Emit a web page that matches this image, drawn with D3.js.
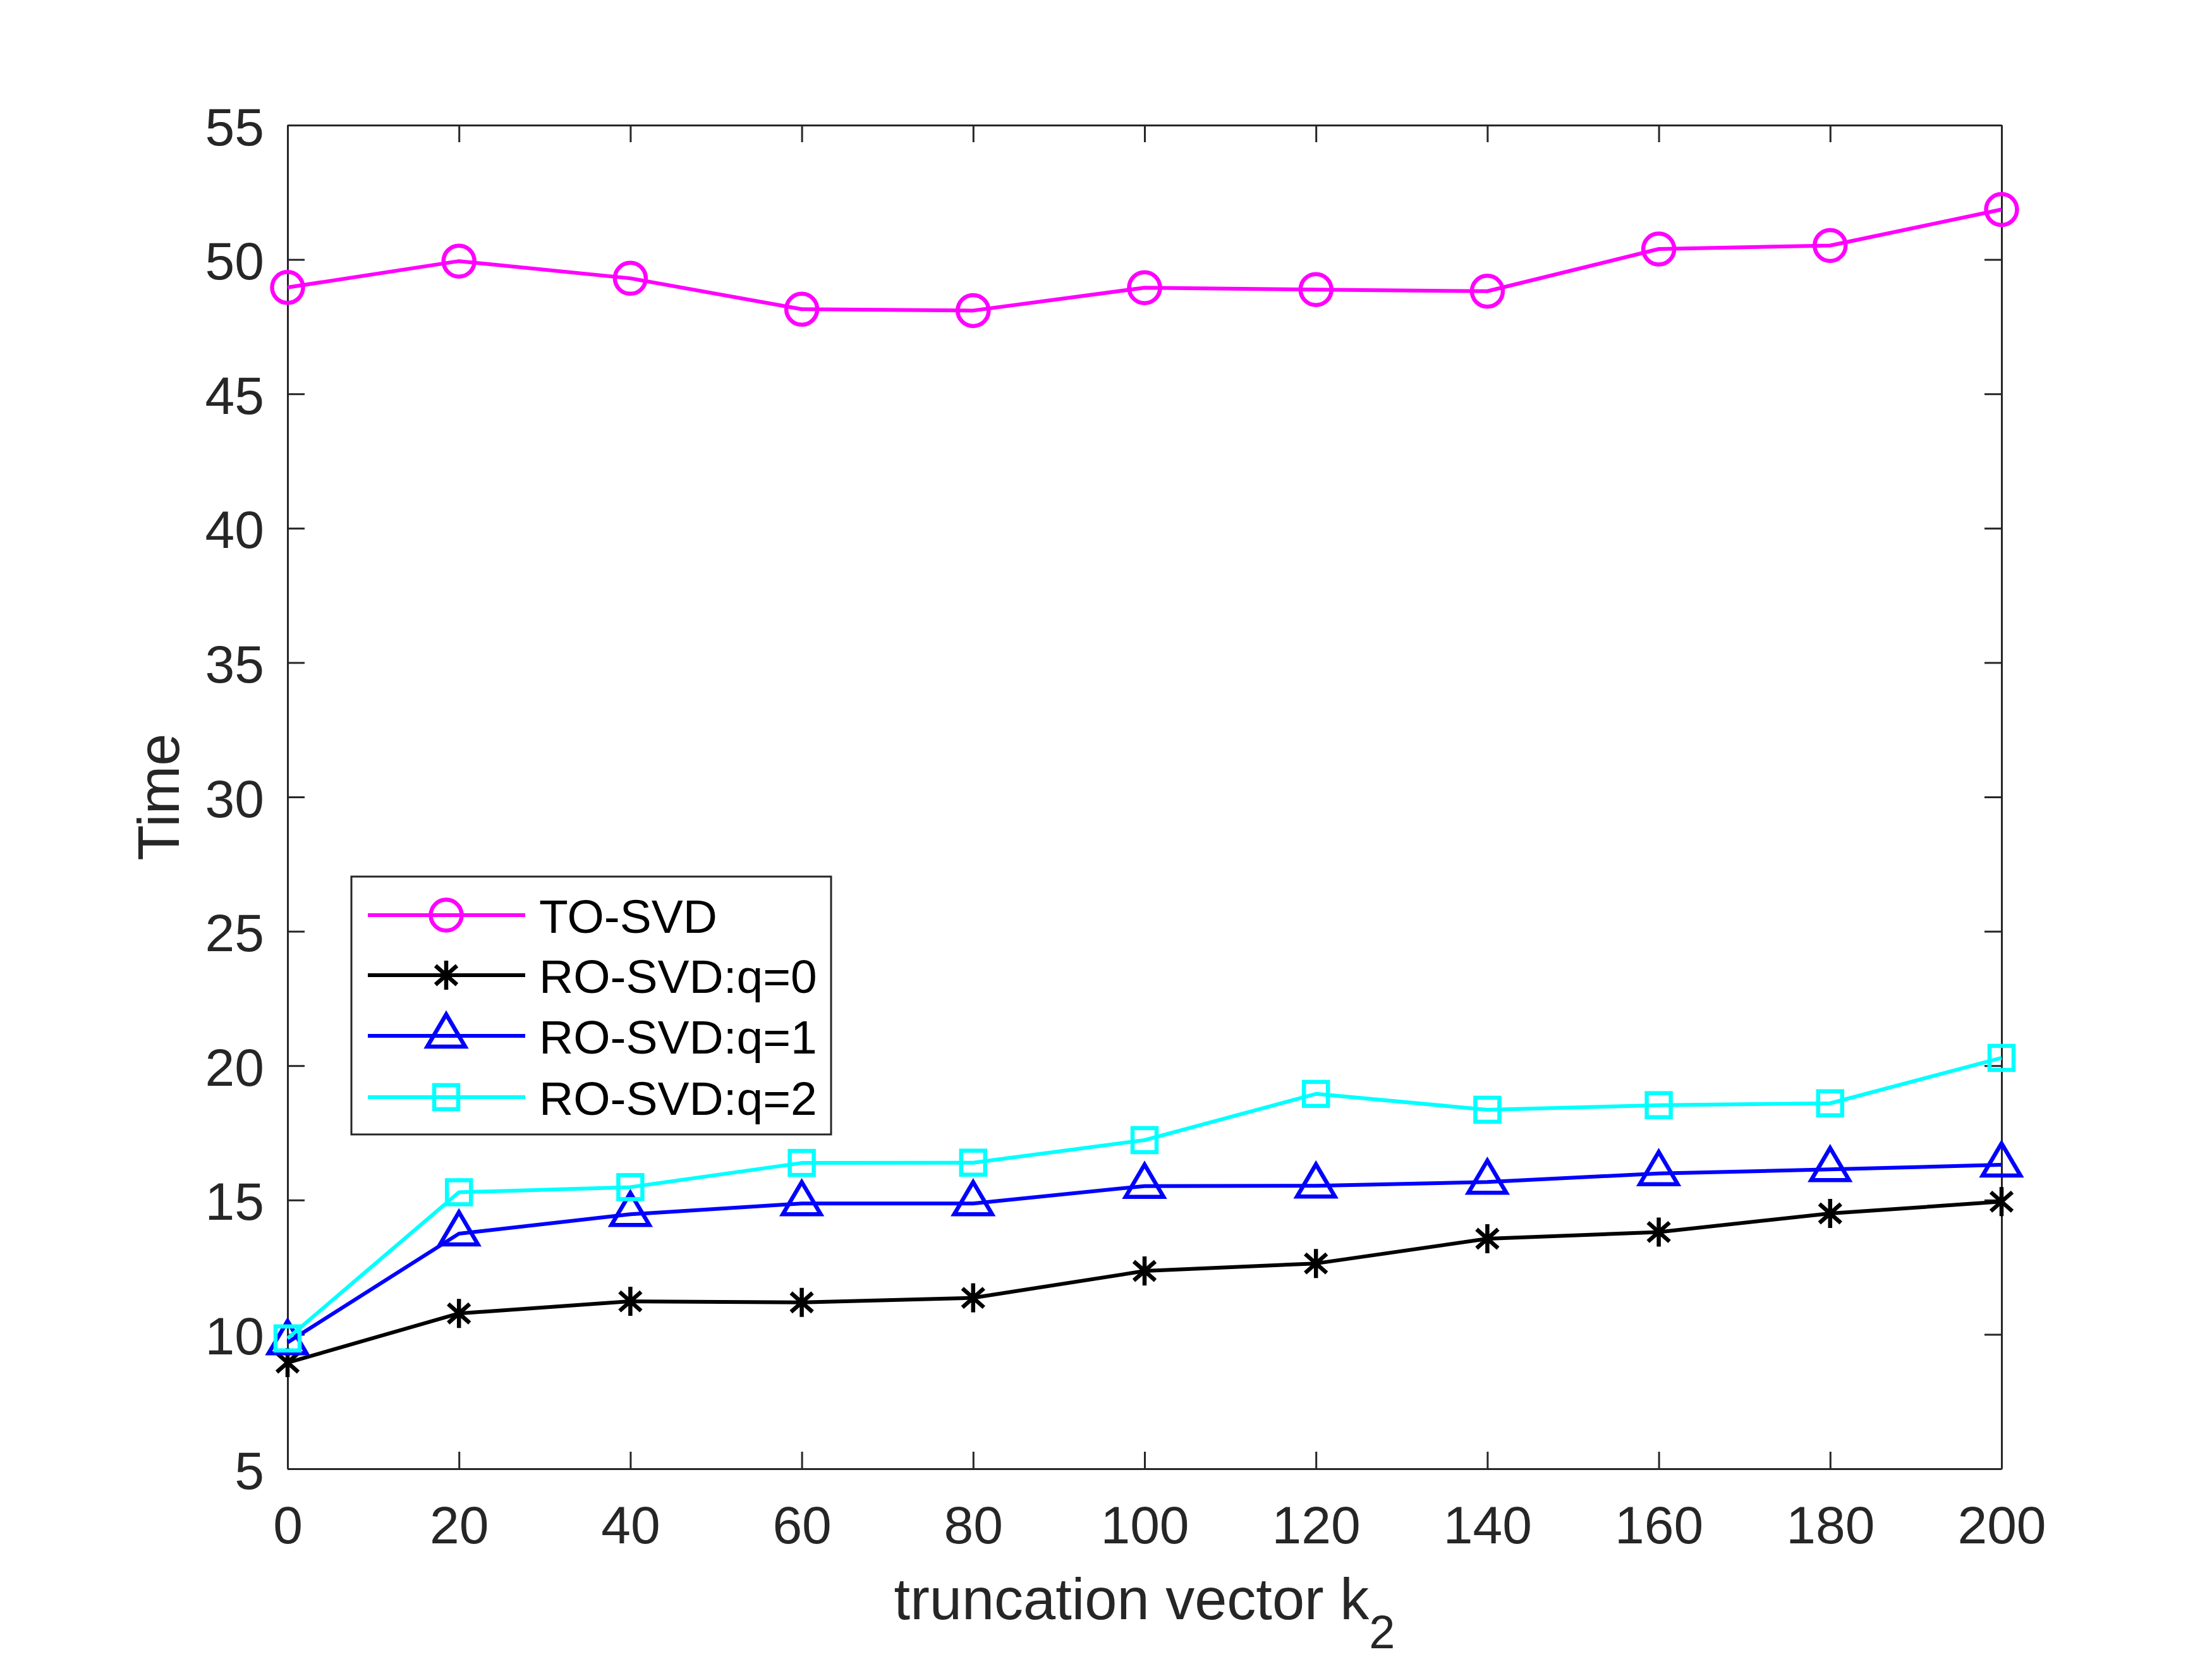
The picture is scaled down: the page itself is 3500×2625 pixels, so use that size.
<!DOCTYPE html>
<html>
<head>
<meta charset="utf-8">
<script src="https://cdn.jsdelivr.net/npm/d3@7"></script>
<style>
  html, body { margin: 0; padding: 0; background: #fff; }
  svg { display: block; }
</style>
</head>
<body>
<svg id="chart" width="3500" height="2625"></svg>
<script>
// ---- data ----
const kValues = [0, 20, 40, 60, 80, 100, 120, 140, 160, 180, 200];
const toSvd   = [48.96, 49.94, 49.30, 48.15, 48.10, 48.95, 48.88, 48.82, 50.39, 50.52, 51.86];
const roSvdQ0 = [8.95, 10.78, 11.23, 11.19, 11.36, 12.36, 12.64, 13.56, 13.81, 14.50, 14.94];
const roSvdQ1 = [9.70, 13.75, 14.47, 14.87, 14.87, 15.52, 15.53, 15.67, 15.99, 16.14, 16.31];
const roSvdQ2 = [9.85, 15.29, 15.48, 16.38, 16.39, 17.23, 18.95, 18.36, 18.53, 18.60, 20.29];
const seriesNames = ["TO-SVD", "RO-SVD:q=0", "RO-SVD:q=1", "RO-SVD:q=2"];
const xTicks = [0, 20, 40, 60, 80, 100, 120, 140, 160, 180, 200];
const yTicks = [5, 10, 15, 20, 25, 30, 35, 40, 45, 50, 55];

// ---- layout ----
const W = 3500, H = 2625;
const L = 455, R = 3167, T = 198, B = 2324;
const axisColor = "#262626";
const font = "'Liberation Sans', Arial, Helvetica, sans-serif";
const tickLen = 27;

const svg = d3.select("#chart");
svg.append("rect").attr("width", W).attr("height", H).attr("fill", "#fff");

const x = d3.scaleLinear().domain([0, 200]).range([L, R]);
const y = d3.scaleLinear().domain([5, 55]).range([B, T]);

const series = [
  { name: seriesNames[0], values: toSvd,   color: "#ff00ff", marker: "circle" },
  { name: seriesNames[1], values: roSvdQ0, color: "#000000", marker: "asterisk" },
  { name: seriesNames[2], values: roSvdQ1, color: "#0000ff", marker: "triangle" },
  { name: seriesNames[3], values: roSvdQ2, color: "#00ffff", marker: "square" }
];

// axes
function styleAxis(g) {
  g.selectAll("path.domain").attr("stroke", axisColor).attr("stroke-width", 3);
  g.selectAll(".tick line").attr("stroke", axisColor).attr("stroke-width", 3);
  g.selectAll(".tick text").attr("fill", axisColor).attr("font-family", font).attr("font-size", 84);
}
const gx = svg.append("g").attr("transform", `translate(0,${B})`)
  .call(d3.axisBottom(x).tickValues(xTicks).tickSizeInner(-tickLen).tickSizeOuter(0).tickPadding(58).tickFormat(d3.format("d")));
styleAxis(gx);
const gxTop = svg.append("g").attr("transform", `translate(0,${T})`)
  .call(d3.axisTop(x).tickValues(xTicks).tickSizeInner(-tickLen).tickSizeOuter(0).tickFormat(""));
styleAxis(gxTop);
const gy = svg.append("g").attr("transform", `translate(${L},0)`)
  .call(d3.axisLeft(y).tickValues(yTicks).tickSizeInner(-tickLen).tickSizeOuter(0).tickPadding(37).tickFormat(d3.format("d")));
styleAxis(gy);
gy.selectAll(".tick text").attr("dy", "0.37em");
const gyRight = svg.append("g").attr("transform", `translate(${R},0)`)
  .call(d3.axisRight(y).tickValues(yTicks).tickSizeInner(-tickLen).tickSizeOuter(0).tickFormat(""));
styleAxis(gyRight);

// axis labels
const xl = svg.append("text")
  .attr("x", (L + R) / 2).attr("y", 2562)
  .attr("text-anchor", "middle").attr("font-family", font).attr("font-size", 92).attr("fill", axisColor);
xl.append("tspan").text("truncation vector k");
xl.append("tspan").attr("font-size", 74).attr("dy", 46).text("2");

svg.append("text")
  .attr("transform", `translate(283,${(T + B) / 2}) rotate(-90)`)
  .attr("text-anchor", "middle").attr("font-family", font).attr("font-size", 92).attr("fill", axisColor)
  .text("Time");

// markers
function drawMarker(g, type, color, cx, cy) {
  const sw = 6.5;
  if (type === "circle") {
    g.append("circle").attr("cx", cx).attr("cy", cy).attr("r", 24.5)
      .attr("fill", "none").attr("stroke", color).attr("stroke-width", sw);
  } else if (type === "square") {
    g.append("rect").attr("x", cx - 19).attr("y", cy - 19).attr("width", 38).attr("height", 38)
      .attr("fill", "none").attr("stroke", color).attr("stroke-width", sw);
  } else if (type === "triangle") {
    const pts = [[cx, cy - 34], [cx + 30, cy + 17], [cx - 30, cy + 17]];
    g.append("path").attr("d", "M" + pts.map(p => p.join(",")).join("L") + "Z")
      .attr("fill", "none").attr("stroke", color).attr("stroke-width", sw).attr("stroke-linejoin", "miter");
  } else if (type === "asterisk") {
    const d = `M${cx},${cy - 23}L${cx},${cy + 23}` +
              `M${cx - 17},${cy - 15}L${cx + 17},${cy + 15}` +
              `M${cx + 17},${cy - 15}L${cx - 17},${cy + 15}`;
    g.append("path").attr("d", d).attr("fill", "none").attr("stroke", color).attr("stroke-width", sw);
  }
}

const line = d3.line().x((d, i) => x(kValues[i])).y(d => y(d));
series.forEach(s => {
  const g = svg.append("g");
  g.append("path").attr("d", line(s.values)).attr("fill", "none")
    .attr("stroke", s.color).attr("stroke-width", 6).attr("stroke-linejoin", "round");
  s.values.forEach((v, i) => drawMarker(g, s.marker, s.color, x(kValues[i]), y(v)));
});

// legend
const lg = svg.append("g");
lg.append("rect").attr("x", 556).attr("y", 1387).attr("width", 1315 - 556).attr("height", 1795 - 1387)
  .attr("fill", "#fff").attr("stroke", axisColor).attr("stroke-width", 3);
const rowY = [1448, 1543, 1639, 1736];
series.forEach((s, i) => {
  const cy = rowY[i];
  lg.append("line").attr("x1", 582).attr("x2", 831).attr("y1", cy).attr("y2", cy)
    .attr("stroke", s.color).attr("stroke-width", 6);
  drawMarker(lg, s.marker, s.color, 706, cy);
  lg.append("text").attr("x", 853).attr("y", cy + 28)
    .attr("font-family", font).attr("font-size", 75).attr("fill", "#000").text(s.name);
});
</script>
</body>
</html>
